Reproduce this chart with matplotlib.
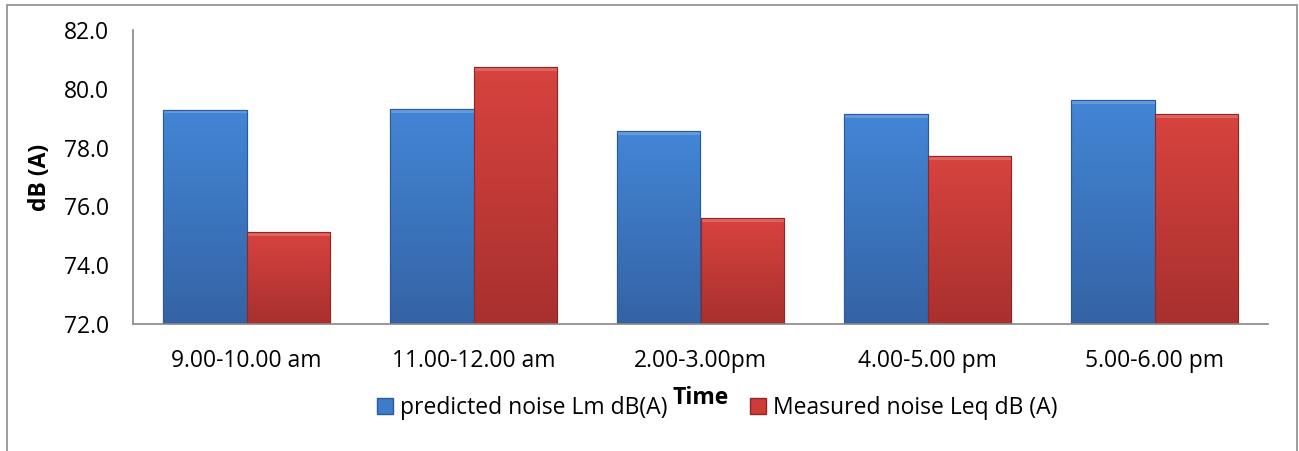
import matplotlib
matplotlib.use("Agg")
import matplotlib.pyplot as plt
from matplotlib.patches import Rectangle, Patch
from matplotlib.colors import LinearSegmentedColormap
import numpy as np

categories = ["9.00-10.00 am", "11.00-12.00 am", "2.00-3.00pm", "4.00-5.00 pm", "5.00-6.00 pm"]
predicted = [79.28, 79.30, 78.56, 79.13, 79.62]
measured = [75.13, 80.73, 75.60, 77.70, 79.14]
series_names = ["predicted noise Lm dB(A)", "Measured noise Leq dB (A)"]
yticks = [72.0, 74.0, 76.0, 78.0, 80.0, 82.0]

plt.rcParams['font.family'] = ['Open Sans', 'DejaVu Sans']
FS = 16.5

fig = plt.figure(figsize=(12.99, 4.51), dpi=100)
ax = fig.add_axes([133/1299, 1-324/451, (1268-133)/1299, (324-30)/451])

x = np.arange(len(categories))
w = 0.366
blue = "#3D7CC9"
red = "#CC3D3A"
bars_b = ax.bar(x - w/2, [p - 72 for p in predicted], w, bottom=72, color=blue, edgecolor="#2A5A99", linewidth=0.8, zorder=3)
bars_r = ax.bar(x + w/2, [m - 72 for m in measured], w, bottom=72, color=red, edgecolor="#8E2826", linewidth=0.8, zorder=3)

cmap_b = LinearSegmentedColormap.from_list("b", ["#3463A5", "#4386D6"])
cmap_r = LinearSegmentedColormap.from_list("r", ["#A8302E", "#D8433F"])
grad = np.linspace(0, 1, 256).reshape(-1, 1)
for bars, cm in ((bars_b, cmap_b), (bars_r, cmap_r)):
    for b in bars:
        x0, y0 = b.get_x(), b.get_y()
        bw, bh = b.get_width(), b.get_height()
        im = ax.imshow(grad, cmap=cm, origin="lower", aspect="auto",
                       extent=(x0, x0 + bw, y0, y0 + bh), zorder=3.5)
        im.set_clip_path(b)
        ax.add_patch(Rectangle((x0, y0 + bh - 0.12), bw, 0.12, facecolor="white", alpha=0.18,
                               edgecolor="none", zorder=3.6))
        ax.add_patch(Rectangle((x0, y0), bw, bh, fill=False, edgecolor=b.get_edgecolor(),
                               linewidth=0.8, zorder=3.7))

ax.set_xlim(-0.5, len(categories) - 0.5)
ax.set_ylim(72, 82)
ax.set_yticks(yticks)
ax.set_yticklabels([f"{v:.1f}" for v in yticks], fontsize=FS)
ax.set_xticks(x)
ax.set_xticklabels(categories, fontsize=FS)
ax.tick_params(axis='both', length=0)
ax.tick_params(axis='x', pad=18)
ax.tick_params(axis='y', pad=17)
for s in ["top", "right"]:
    ax.spines[s].set_visible(False)
for s in ["left", "bottom"]:
    ax.spines[s].set_color("#868686")
    ax.spines[s].set_linewidth(1.2)
    ax.spines[s].set_zorder(4)

fig.text(40/1299, 1-177/451, "dB (A)", rotation=90, fontsize=FS, fontweight="bold", ha="center", va="center")
fig.text(701/1299, 1-398/451, "Time", fontsize=FS, fontweight="bold", ha="center", va="center")

handles = [Patch(facecolor=blue, edgecolor="#2A5A99"), Patch(facecolor=red, edgecolor="#8E2826")]
fig.legend(handles, series_names, loc="center", bbox_to_anchor=(717/1299, 1-408/451), ncol=2,
           frameon=False, fontsize=FS, columnspacing=3.6, handlelength=0.7, handleheight=0.7, handletextpad=0.3)

fig.patches.append(Rectangle((7/1299, -0.05), (1297-7)/1299, 1.05-5/451, transform=fig.transFigure,
                             fill=False, edgecolor="#8C8C8C", linewidth=1.2))

fig.savefig("out.png", dpi=100)
